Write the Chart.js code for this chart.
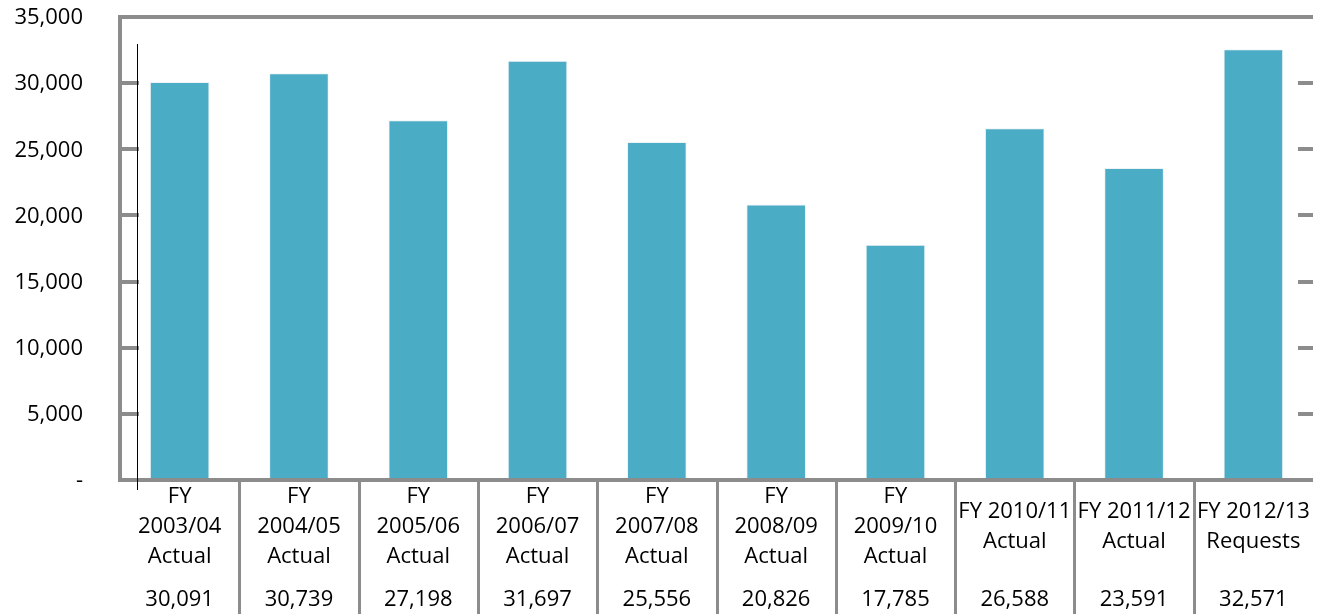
<!DOCTYPE html>
<html>
<head>
<meta charset="utf-8">
<script src="https://cdn.jsdelivr.net/npm/chart.js@4.4.1/dist/chart.umd.min.js"></script>
<style>
  html, body { margin: 0; padding: 0; background: #fff; }
  #wrap { width: 1321px; height: 614px; position: relative; }
</style>
</head>
<body>
<div id="wrap"><canvas id="chart"></canvas></div>
<script>
  var categoryLines = [
    ["FY", "2003/04", "Actual"],
    ["FY", "2004/05", "Actual"],
    ["FY", "2005/06", "Actual"],
    ["FY", "2006/07", "Actual"],
    ["FY", "2007/08", "Actual"],
    ["FY", "2008/09", "Actual"],
    ["FY", "2009/10", "Actual"],
    ["FY 2010/11", "Actual"],
    ["FY 2011/12", "Actual"],
    ["FY 2012/13", "Requests"]
  ];
  var requestValues = [30091, 30739, 27198, 31697, 25556, 20826, 17785, 26588, 23591, 32571];
  var yMax = 35000;
  var yStep = 5000;

  var fontFamily = "'Open Sans', sans-serif";
  var axisGrey = '#8c8c8c';

  function fmt(v) {
    return v === 0 ? '-' : v.toLocaleString('en-US');
  }

  // frame, inward ticks, axis labels, category dividers and the value row
  var framePlugin = {
    id: 'frame',
    afterDraw: function (chart) {
      var ctx = chart.ctx;
      var area = chart.chartArea;
      var x = chart.scales.x;
      var y = chart.scales.y;
      var h = chart.height;
      ctx.save();
      ctx.strokeStyle = axisGrey;
      ctx.lineCap = 'butt';

      // left, top and bottom lines
      ctx.lineWidth = 4;
      ctx.beginPath();
      ctx.moveTo(area.left, area.bottom);
      ctx.lineTo(area.left, area.top);
      ctx.lineTo(area.right, area.top);
      ctx.stroke();
      ctx.beginPath();
      ctx.moveTo(area.left - 2, area.bottom);
      ctx.lineTo(area.right, area.bottom);
      ctx.stroke();

      // inward ticks on both sides
      for (var v = yStep; v < yMax; v += yStep) {
        var py = Math.round(y.getPixelForValue(v));
        ctx.beginPath();
        ctx.moveTo(area.left, py);
        ctx.lineTo(area.left + 19, py);
        ctx.moveTo(area.right - 15, py);
        ctx.lineTo(area.right, py);
        ctx.stroke();
      }

      // thin black line near the left
      ctx.strokeStyle = '#000';
      ctx.lineWidth = 1;
      ctx.beginPath();
      ctx.moveTo(area.left + 17.5, area.top + 27);
      ctx.lineTo(area.left + 17.5, area.bottom + 10);
      ctx.stroke();

      // category dividers below the axis
      ctx.strokeStyle = axisGrey;
      ctx.lineWidth = 3;
      var step = (area.right - area.left) / categoryLines.length;
      for (var i = 1; i < categoryLines.length; i++) {
        var dx = Math.round(x.getPixelForValue(i) - step / 2) + 0.5;
        ctx.beginPath();
        ctx.moveTo(dx, area.bottom);
        ctx.lineTo(dx, h);
        ctx.stroke();
      }

      ctx.fillStyle = '#000';
      ctx.font = '22px ' + fontFamily;
      ctx.textBaseline = 'middle';

      // y tick labels
      ctx.textAlign = 'right';
      y.ticks.forEach(function (t) {
        ctx.fillText(fmt(t.value), 83, y.getPixelForValue(t.value) + 1);
      });

      // category names and values
      ctx.textAlign = 'center';
      var lineH = 30;
      var blockMid = 527;
      categoryLines.forEach(function (lines, idx) {
        var cx = x.getPixelForValue(idx);
        var start = blockMid - (lines.length - 1) * lineH / 2;
        lines.forEach(function (t, k) {
          ctx.fillText(t, cx, start + k * lineH);
        });
        ctx.fillText(fmt(requestValues[idx]), cx, 600);
      });
      ctx.restore();
    }
  };

  new Chart(document.getElementById('chart'), {
    type: 'bar',
    data: {
      labels: categoryLines.map(function (l) { return l.join(' '); }),
      datasets: [{
        label: 'Requests',
        data: requestValues,
        backgroundColor: '#4bacc6',
        borderColor: '#eef3f5',
        borderWidth: 1,
        categoryPercentage: 1,
        barPercentage: 0.5
      }]
    },
    options: {
      responsive: true,
      maintainAspectRatio: false,
      animation: false,
      layout: { autoPadding: false, padding: { top: 17, right: 8, bottom: 134, left: 0 } },
      plugins: {
        legend: { display: false },
        tooltip: { enabled: false }
      },
      scales: {
        x: {
          ticks: { display: false },
          grid: { display: false, drawTicks: false },
          border: { display: false },
          afterFit: function (s) { s.height = 0; }
        },
        y: {
          min: 0,
          max: yMax,
          ticks: { stepSize: yStep, display: false, padding: 0 },
          grid: { display: false, drawTicks: false },
          border: { display: false },
          afterFit: function (s) { s.width = 120; }
        }
      }
    },
    plugins: [framePlugin]
  });
</script>
</body>
</html>
